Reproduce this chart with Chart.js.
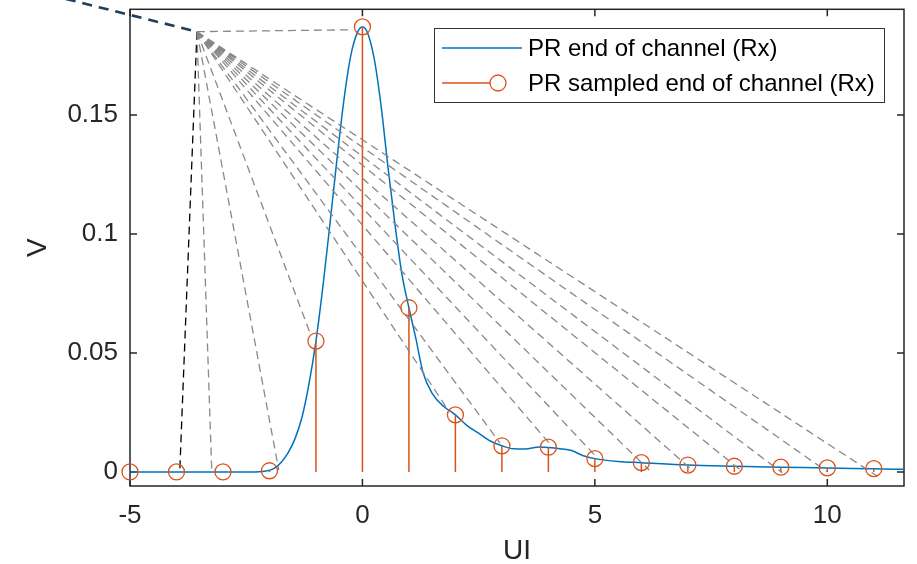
<!DOCTYPE html>
<html>
<head>
<meta charset="utf-8">
<script src="https://cdn.jsdelivr.net/npm/chart.js@4/dist/chart.umd.min.js"></script>
<style>
  body { margin: 0; background: #fff; }
  #wrap { width: 917px; height: 564px; }
</style>
</head>
<body>
<div id="wrap"><canvas id="chart" width="917" height="564"></canvas></div>
<script>
const FONT = "'Liberation Sans', Arial, Helvetica, sans-serif";

// pulse response (blue curve)
const curveX = [-5, -4, -3, -2.4, -2.1, -1.9, -1.75, -1.6, -1.45, -1.3, -1.15, -1.0, -0.85, -0.7, -0.55, -0.4, -0.25, -0.1, 0,
  0.1, 0.25, 0.4, 0.55, 0.7, 0.85, 1.0, 1.15, 1.3, 1.5, 1.75, 2.0, 2.25, 2.5, 2.75, 3.0, 3.25, 3.5, 3.8, 4.0, 4.25, 4.5,
  4.75, 5.0, 5.5, 6, 7, 8, 9, 10, 11, 11.65];
const curveY = [0, 0, 0, 0, 0.0003, 0.0015, 0.004, 0.008, 0.014, 0.023, 0.037, 0.055, 0.078, 0.104, 0.131, 0.156, 0.175, 0.185, 0.187,
  0.185, 0.174, 0.154, 0.128, 0.104, 0.083, 0.069, 0.056, 0.042, 0.033, 0.0275, 0.024, 0.0195, 0.0163, 0.013, 0.011, 0.0097, 0.0096, 0.0105, 0.0103, 0.0098, 0.009,
  0.0068, 0.0056, 0.0044, 0.0039, 0.0029, 0.0024, 0.002, 0.0017, 0.0013, 0.0011];

// sampled pulse response (orange stems)
const sampleX = [-5, -4, -3, -2, -1, 0, 1, 2, 3, 4, 5, 6, 7, 8, 9, 10, 11];
const sampleY = [0, 0, 0, 0.0005, 0.055, 0.187, 0.069, 0.024, 0.011, 0.0104, 0.0056, 0.0039, 0.0029, 0.0024, 0.002, 0.0017, 0.0014];

// construction lines
const apex = { x: -3.56, y: 0.185 };
const fanEndX = [-3.24, -1.8, -1.12, -0.2, 1.82, 2.96, 4.02, 5.0, 6.17, 7.05, 8.17, 9.03, 10.0, 11.07];
const fanEndY = [-0.0005, 0.0008, 0.058, 0.1858, 0.0267, 0.0121, 0.012, 0.007, 0.0008, 0.0015, 0.0002, -0.0003, 0.0001, -0.0017];
const blackEnd = { x: -3.93, y: 0 };
const navyStart = { x: -7.8, y: 0.2057 };

const xTicks = [-5, 0, 5, 10];
const xTickLabels = ['-5', '0', '5', '10'];
const yTicks = [0, 0.05, 0.1, 0.15];
const yTickLabels = ['0', '0.05', '0.1', '0.15'];

const legendLabels = ['PR end of channel (Rx)', 'PR sampled end of channel (Rx)'];

const BLUE = '#0072BD';
const ORANGE = '#D95319';
const AXIS = '#262626';

const curvePts = curveX.map((x, i) => ({ x: x, y: curveY[i] }));
const samplePts = sampleX.map((x, i) => ({ x: x, y: sampleY[i] }));
const stemPts = [];
sampleX.forEach((x, i) => {
  stemPts.push({ x: x, y: 0 }, { x: x, y: sampleY[i] }, { x: x, y: null });
});
const fanPts = [];
fanEndX.forEach((x, i) => {
  fanPts.push({ x: apex.x, y: apex.y }, { x: x, y: fanEndY[i] }, { x: x, y: null });
});

const axesBox = {
  id: 'axesBox',
  beforeDatasetsDraw(chart) {
    const { ctx, chartArea: a, scales } = chart;
    ctx.save();
    ctx.strokeStyle = AXIS;
    ctx.lineWidth = 1.5;
    ctx.strokeRect(a.left, a.top, a.right - a.left, a.bottom - a.top);
    ctx.beginPath();
    xTicks.forEach(v => {
      const px = scales.x.getPixelForValue(v);
      ctx.moveTo(px, a.bottom); ctx.lineTo(px, a.bottom - 7);
      ctx.moveTo(px, a.top); ctx.lineTo(px, a.top + 7);
    });
    yTicks.forEach(v => {
      const py = scales.y.getPixelForValue(v);
      ctx.moveTo(a.left, py); ctx.lineTo(a.left + 7, py);
      ctx.moveTo(a.right, py); ctx.lineTo(a.right - 7, py);
    });
    ctx.stroke();
    ctx.restore();
  },
  afterDraw(chart) {
    const { ctx, chartArea: a } = chart;
    ctx.save();
    // axis titles
    ctx.fillStyle = AXIS;
    ctx.font = '28px ' + FONT;
    ctx.textAlign = 'center';
    ctx.textBaseline = 'middle';
    ctx.fillText('UI', (a.left + a.right) / 2, 551);
    ctx.translate(38, (a.top + a.bottom) / 2);
    ctx.rotate(-Math.PI / 2);
    ctx.fillText('V', 0, 0);
    ctx.restore();

    // legend
    ctx.save();
    ctx.fillStyle = '#fff';
    ctx.fillRect(434, 28, 450, 74);
    ctx.strokeStyle = '#333';
    ctx.lineWidth = 1;
    ctx.strokeRect(434.5, 28.5, 450, 74);
    ctx.lineWidth = 1.5;
    ctx.strokeStyle = BLUE;
    ctx.beginPath(); ctx.moveTo(442, 48); ctx.lineTo(522, 48); ctx.stroke();
    ctx.strokeStyle = ORANGE;
    ctx.beginPath(); ctx.moveTo(442, 83); ctx.lineTo(490, 83); ctx.stroke();
    ctx.lineWidth = 1.3;
    ctx.beginPath(); ctx.arc(498, 83, 8, 0, Math.PI * 2); ctx.stroke();
    ctx.fillStyle = '#000';
    ctx.font = '24px ' + FONT;
    ctx.textAlign = 'left';
    ctx.textBaseline = 'middle';
    ctx.fillText(legendLabels[0], 528, 49);
    ctx.fillText(legendLabels[1], 528, 84);
    ctx.restore();
  }
};

new Chart(document.getElementById('chart'), {
  type: 'scatter',
  data: {
    datasets: [
      { data: samplePts, showLine: false, pointRadius: 8, pointHoverRadius: 8, pointStyle: 'circle',
        pointBackgroundColor: 'rgba(0,0,0,0)', pointBorderColor: ORANGE, pointBorderWidth: 1.3, clip: false, order: 1 },
      { data: fanPts, showLine: true, spanGaps: false, pointRadius: 0, borderColor: '#888888', borderWidth: 1.3,
        borderDash: [8, 5], clip: false, order: 2 },
      { data: [apex, blackEnd], showLine: true, pointRadius: 0, borderColor: '#000', borderWidth: 1.3,
        borderDash: [8, 5], clip: false, order: 2 },
      { data: [navyStart, apex], showLine: true, pointRadius: 0, borderColor: '#1f3d5c', borderWidth: 2.6,
        borderDash: [10, 7], clip: false, order: 2 },
      { data: stemPts, showLine: true, spanGaps: false, pointRadius: 0, borderColor: ORANGE, borderWidth: 1.5, order: 3 },
      { data: curvePts, showLine: true, pointRadius: 0, borderColor: BLUE, borderWidth: 1.5,
        cubicInterpolationMode: 'monotone', order: 4 }
    ]
  },
  options: {
    responsive: false,
    animation: false,
    devicePixelRatio: 1,
    layout: { padding: { left: 0, right: 13, top: 8, bottom: 0 } },
    plugins: { legend: { display: false }, tooltip: { enabled: false } },
    events: [],
    scales: {
      x: {
        type: 'linear', min: -5, max: 11.65,
        afterBuildTicks: s => { s.ticks = xTicks.map(v => ({ value: v })); },
        afterFit: s => { s.height = 78; s.paddingLeft = 0; s.paddingRight = 0; },
        grid: { display: false, drawTicks: false },
        border: { display: false },
        ticks: { color: AXIS, font: { family: FONT, size: 26 }, padding: 14, maxRotation: 0, autoSkip: false,
          callback: (v, i) => xTickLabels[i] }
      },
      y: {
        type: 'linear', min: -0.0059, max: 0.1944,
        afterBuildTicks: s => { s.ticks = yTicks.map(v => ({ value: v })); },
        afterFit: s => { s.width = 130; s.paddingTop = 0; s.paddingBottom = 0; },
        grid: { display: false, drawTicks: false },
        border: { display: false },
        ticks: { color: AXIS, font: { family: FONT, size: 26 }, padding: 12, autoSkip: false,
          callback: (v, i) => yTickLabels[i] }
      }
    }
  },
  plugins: [axesBox]
});
</script>
</body>
</html>
